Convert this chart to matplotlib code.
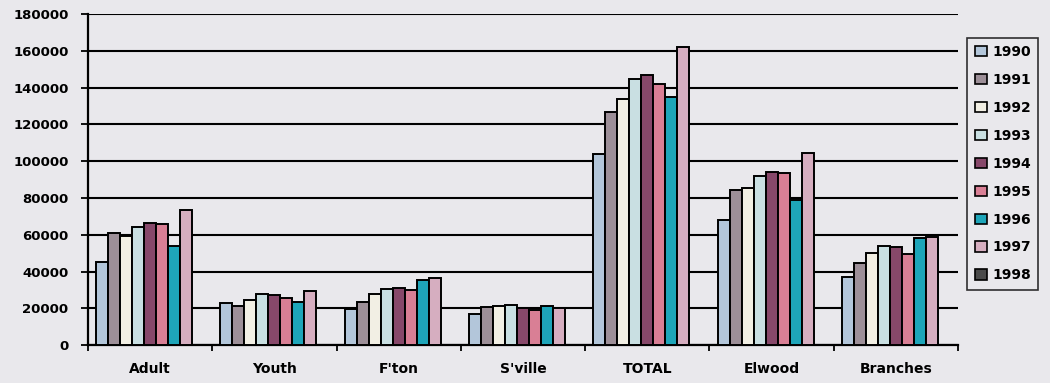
import numpy as np
import matplotlib.pyplot as plt
from matplotlib.patches import Patch

# categories and yearly values
categories = ["Adult", "Youth", "F'ton", "S'ville", "TOTAL", "Elwood", "Branches"]
years = ["1990", "1991", "1992", "1993", "1994", "1995", "1996", "1997", "1998"]

v1990 = [45000, 23000, 19500, 16800, 104000, 68000, 37200]
v1991 = [61000, 21500, 23500, 20800, 127000, 84300, 44800]
v1992 = [59500, 24400, 28000, 21100, 134000, 85200, 50200]
v1993 = [64000, 28000, 30500, 21700, 145000, 92000, 53900]
v1994 = [66500, 27000, 31300, 20400, 146800, 94300, 53500]
v1995 = [66000, 25800, 29800, 19000, 142000, 93400, 49500]
v1996 = [54000, 23500, 35200, 21500, 134800, 79000, 58000]
v1997 = [73500, 29500, 36500, 20200, 162300, 104600, 58600]
v1998 = [0, 0, 0, 0, 0, 0, 0]
series = [v1990, v1991, v1992, v1993, v1994, v1995, v1996, v1997, v1998]

colors = ["#b3c6da", "#9d8f98", "#f2efe4", "#c9dfe2", "#87486a",
          "#d97f95", "#1ea5b9", "#d6aec0", "#4a4a4a"]

bg = "#e9e8ec"
fig = plt.figure(figsize=(10.5, 3.83), dpi=100, facecolor=bg)
ax = fig.add_axes([0.0838, 0.099, 0.8286, 0.864], facecolor=bg)

x = np.arange(len(categories))
w = 0.0965
for i, vals in enumerate(series):
    offs = (i - 4) * w
    ax.bar(x + offs, vals, width=w, color=colors[i], edgecolor="black",
           linewidth=1.4, zorder=3)

ax.set_ylim(0, 180000)
ax.set_xlim(-0.5, len(categories) - 0.5)
ax.set_yticks(np.arange(0, 180001, 20000))
ax.yaxis.grid(True, color="black", linewidth=1.5, zorder=0)
ax.set_axisbelow(True)

ax.set_xticks(x)
ax.set_xticklabels(categories)
ax.set_xticks(np.arange(-0.5, len(categories)), minor=True)
ax.tick_params(axis="x", which="major", length=0, pad=12)
ax.tick_params(axis="x", which="minor", length=4, width=1.3, direction="out")
ax.tick_params(axis="y", length=5, width=1.3, direction="out", pad=9)

for lbl in ax.get_xticklabels():
    lbl.set_fontfamily("DejaVu Sans")
    lbl.set_fontweight("bold")
    lbl.set_fontsize(10)
for lbl in ax.get_yticklabels():
    lbl.set_fontfamily("DejaVu Sans")
    lbl.set_fontweight("bold")
    lbl.set_fontsize(9.5)

for s in ["top", "right"]:
    ax.spines[s].set_visible(False)
ax.spines["left"].set_linewidth(1.6)
ax.spines["bottom"].set_linewidth(1.6)

handles = [Patch(facecolor=c, edgecolor="black", linewidth=1.2) for c in colors]
leg = fig.legend(handles, years, loc="upper left", bbox_to_anchor=(0.921, 0.902),
                 frameon=True, fancybox=False, handlelength=0.9, handleheight=0.75,
                 handletextpad=0.35, labelspacing=1.0, borderpad=0.55,
                 borderaxespad=0.0,
                 prop={"family": "DejaVu Sans", "weight": "bold", "size": 10})
leg.get_frame().set_edgecolor("black")
leg.get_frame().set_linewidth(1.2)
leg.get_frame().set_facecolor(bg)

fig.savefig("out.png", dpi=100, facecolor=bg)
